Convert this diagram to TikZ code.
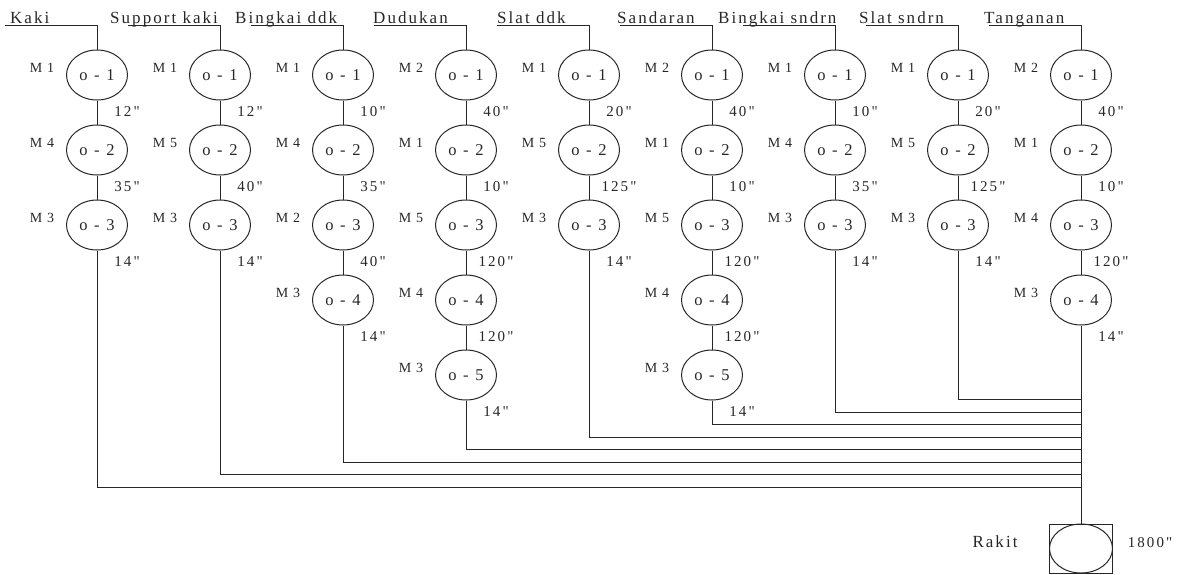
\documentclass[tikz,border=0pt]{standalone}
\usepackage{fontspec}
\setmainfont{Liberation Serif}
\newfontfamily\hdrfont[LetterSpace=12]{Liberation Serif}
\newfontfamily\opfont[LetterSpace=15]{Liberation Serif}
\newfontfamily\mfont[LetterSpace=35]{Liberation Serif}
\newfontfamily\tfont[LetterSpace=14]{Liberation Serif}
\usetikzlibrary{shapes.geometric}
\definecolor{ink}{HTML}{262626}
\tikzset{
  line/.style={draw=ink, line width=1pt},
  opnode/.style={ellipse, draw=ink, line width=1pt, minimum width=61pt, minimum height=50pt, inner sep=0pt, text=ink, font=\opfont\fontsize{16.5}{18}\selectfont},
  hdr/.style={anchor=base west, inner sep=0pt, text=ink, font=\hdrfont\fontsize{17}{19}\selectfont},
  mlab/.style={inner sep=0pt, text=ink, font=\mfont\fontsize{14}{16}\selectfont},
  tlab/.style={inner sep=0pt, text=ink, font=\tfont\fontsize{15}{17}\selectfont},
  rlab/.style={inner sep=0pt, text=ink, font=\hdrfont\fontsize{17}{18}\selectfont},
}
\begin{document}
\begin{tikzpicture}[x=1pt, y=1pt]
\useasboundingbox (0,0) rectangle (1177,-574);
% Rakit
\node[draw=ink, line width=1pt, minimum width=63pt, minimum height=49pt, inner sep=0pt] (rakitbox) at (1081,-548.5) {};
\node[ellipse, draw=ink, line width=1pt, minimum width=63pt, minimum height=49pt, inner sep=0pt] (rakit) at (1081,-548.5) {};
\node[rlab] (rakitlab) at (995,-542) {Rakit};
\node[tlab] (rakittime) at (1150,-543) {1800"};
\foreach \i/\x/\tx/\h/\ops in {
1/97/10/Kaki/{M1/12,M4/35,M3/14},
2/220/110/Support kaki/{M1/12,M5/40,M3/14},
3/343/235/Bingkai ddk/{M1/10,M4/35,M2/40,M3/14},
4/466/373/Dudukan/{M2/40,M1/10,M5/120,M4/120,M3/14},
5/589/497/Slat ddk/{M1/20,M5/125,M3/14},
6/712/617/Sandaran/{M2/40,M1/10,M5/120,M4/120,M3/14},
7/835/718/Bingkai sndrn/{M1/10,M4/35,M3/14},
8/958/859/Slat sndrn/{M1/20,M5/125,M3/14},
9/1081/984/Tanganan/{M2/40,M1/10,M4/120,M3/14}}{
  \node[hdr] (h\i) at (\tx,-23) {\h};
  \coordinate (t\i) at (\x-92,-25);
  \coordinate (c\i) at (\x,-25);
  \foreach \m/\t [count=\k] in \ops {
    \node[opnode] (n\i-\k) at (\x,-75*\k) {o - \k};
    \node[mlab] (m\i-\k) at (\x-55,-75*\k+7) {\m};
    \node[tlab] (tt\i-\k) at (\x+30,-75*\k-37) {\t"};
    \xdef\last{\k}
  }
  \draw[line] (t\i) -- (c\i) -- (n\i-1.north);
  \ifnum\last>1
    \foreach \k [evaluate=\k as \p using int(\k-1)] in {2,...,\last} {
      \draw[line] (n\i-\p.south) -- (n\i-\k.north);
    }
  \fi
  \ifnum\i<9
    \pgfmathsetmacro\by{-487+12.5*(\i-1)}
    \coordinate (b\i) at (\x,\by);
    \coordinate (e\i) at (1081,\by);
    \draw[line] (n\i-\last.south) -- (b\i) -- (e\i);
  \else
    \draw[line] (n\i-\last.south) -- (rakitbox.north);
  \fi
}
\end{tikzpicture}
\end{document}
